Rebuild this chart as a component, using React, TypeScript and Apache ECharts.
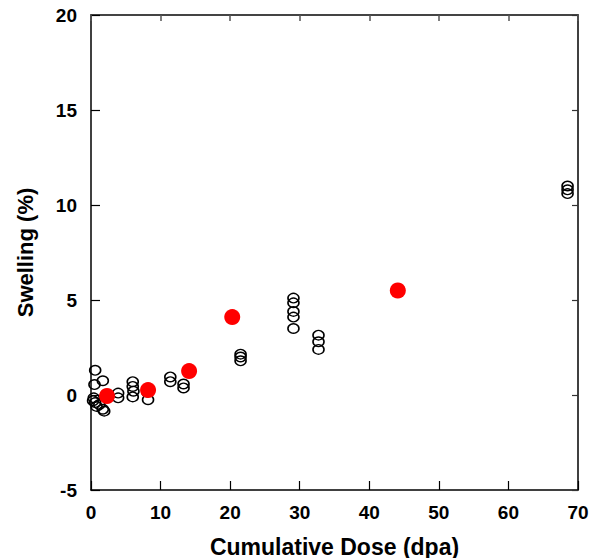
import React, { useEffect, useRef } from "react";
import * as echarts from "echarts";

const openDose = [0.6, 0.5, 1.7, 0.4, 0.6, 0.8, 1.2, 1.7, 1.9, 0.3, 3.9, 3.9, 6.0, 6.0, 6.1, 6.0, 8.2, 8.1, 11.4, 11.4, 13.3, 13.3, 21.5, 21.5, 21.5, 29.1, 29.1, 29.1, 29.1, 29.1, 32.7, 32.7, 32.7, 68.5, 68.5, 68.5];
const openSwell = [1.3, 0.55, 0.75, -0.15, -0.4, -0.6, -0.5, -0.75, -0.85, -0.3, 0.1, -0.15, 0.7, 0.45, 0.2, -0.1, -0.25, 0.15, 0.95, 0.7, 0.58, 0.37, 2.15, 2.0, 1.8, 5.1, 4.85, 4.4, 4.1, 3.5, 3.15, 2.8, 2.4, 11.0, 10.8, 10.6];
const redDose = [2.3, 8.2, 14.1, 20.3, 44.1];
const redSwell = [-0.05, 0.26, 1.26, 4.1, 5.5];
const xTicks = [0, 10, 20, 30, 40, 50, 60, 70];
const yTicks = [-5, 0, 5, 10, 15, 20];

const font = "Liberation Sans, Arial, sans-serif";

export default function App() {
  const ref = useRef<HTMLDivElement>(null);
  useEffect(() => {
    const chart = echarts.init(ref.current!, null, { renderer: "svg" });
    const lbl = { fontFamily: font, fontWeight: "bold" as const, fontSize: 19, color: "#000" };
    chart.setOption({
      animation: false,
      backgroundColor: "#fff",
      grid: { left: 91, right: 22, top: 15, bottom: 68, outerBoundsMode: "none", containLabel: false },
      xAxis: [
        {
          type: "value", position: "bottom", min: xTicks[0], max: xTicks[xTicks.length - 1], interval: 10,
          name: "Cumulative Dose (dpa)", nameLocation: "middle", nameGap: 45,
          nameTextStyle: { fontFamily: font, fontWeight: "bold", fontSize: 23, color: "#000" },
          axisLine: { show: true, onZero: false, lineStyle: { color: "#000", width: 1.5 } },
          axisTick: { show: true, inside: true, length: 9, lineStyle: { color: "#000", width: 1.2 } },
          axisLabel: { ...lbl, margin: 13 },
          splitLine: { show: false },
        },
        {
          type: "value", position: "top", min: xTicks[0], max: xTicks[xTicks.length - 1], interval: 10,
          axisLine: { show: true, onZero: false, lineStyle: { color: "#444", width: 2 } },
          axisTick: { show: true, inside: true, length: 6, lineStyle: { color: "#555", width: 1.5 } },
          axisLabel: { show: false },
          splitLine: { show: false },
        },
      ],
      yAxis: [
        {
          type: "value", position: "left", min: yTicks[0], max: yTicks[yTicks.length - 1], interval: 5,
          name: "Swelling (%)", nameLocation: "middle", nameGap: 55,
          nameTextStyle: { fontFamily: font, fontWeight: "bold", fontSize: 22, color: "#000" },
          axisLine: { show: true, onZero: false, lineStyle: { color: "#000", width: 1.5 } },
          axisTick: { show: true, inside: true, length: 9, lineStyle: { color: "#000", width: 1.2 } },
          axisLabel: { ...lbl, margin: 14 },
          splitLine: { show: false },
        },
        {
          type: "value", position: "right", min: yTicks[0], max: yTicks[yTicks.length - 1], interval: 5,
          axisLine: { show: true, onZero: false, lineStyle: { color: "#000", width: 1.5 } },
          axisTick: { show: true, inside: true, length: 6, lineStyle: { color: "#333", width: 1.2 } },
          axisLabel: { show: false },
          splitLine: { show: false },
        },
      ],
      series: [
        {
          type: "scatter",
          data: openDose.map((d, i) => [d, openSwell[i]]),
          symbol: "circle",
          symbolSize: [11, 9.5],
          itemStyle: { color: "rgba(255,255,255,0)", borderColor: "#000", borderWidth: 1.5, opacity: 1 },
          z: 2,
        },
        {
          type: "scatter",
          data: redDose.map((d, i) => [d, redSwell[i]]),
          symbol: "circle",
          symbolSize: 16,
          itemStyle: { color: "#ff0000", opacity: 1 },
          z: 3,
        },
      ],
    });
    return () => chart.dispose();
  }, []);
  return <div ref={ref} style={{ width: 600, height: 558, position: "absolute", left: 0, top: 0 }} />;
}
